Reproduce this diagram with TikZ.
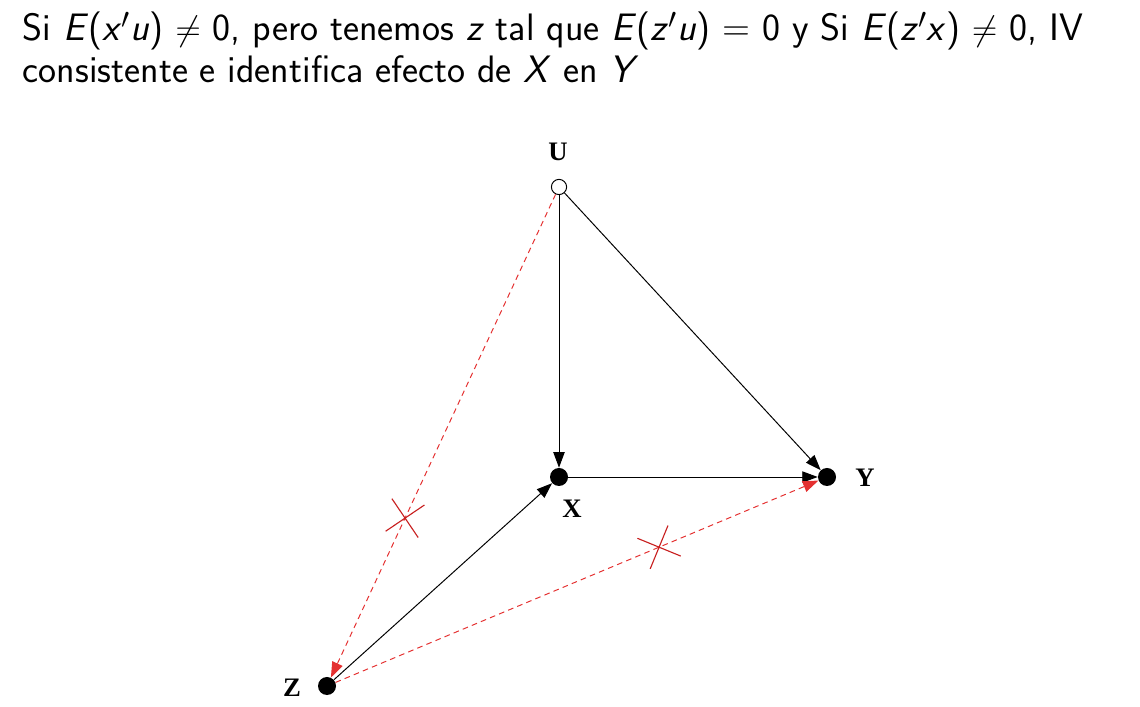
\documentclass[tikz,border=0pt]{standalone}
\usepackage{fontspec}
\usepackage{tikz}
\usetikzlibrary{arrows.meta,shapes.misc}
\newfontfamily\varfont{Liberation Serif}
\definecolor{dagred}{RGB}{228,48,48}
\definecolor{cutred}{RGB}{200,32,32}
\newcommand\mv[1]{\textit{#1}}

\begin{document}
\begin{tikzpicture}[x=0.025cm, y=-0.025cm,
  observed/.style={circle, fill=black, inner sep=0pt, minimum size=0.45cm},
  latent/.style={circle, draw, fill=white, line width=0.7pt, inner sep=0pt, minimum size=0.38cm},
  varlabel/.style={font=\varfont\bfseries\fontsize{19}{22}\selectfont},
  title/.style={anchor=base west, font=\sffamily\fontsize{27.2}{33}\selectfont},
  arrow/.style={-{Triangle[length=11pt, width=8pt]}, line width=0.7pt},
  blocked/.style={-{Triangle[length=11pt, width=8pt]}, dagred, dashed, dash pattern=on 4pt off 3pt, line width=0.7pt},
  cut/.style={cross out, draw=cutred, solid, sloped, line width=0.8pt, minimum size=0.8cm, inner sep=0pt}]
\useasboundingbox (0,0) rectangle (1140,707);
% texto
\node[title] (line1) at (18,41)
  {Si \mv{E}(\mv{x}$'$\mv{u}) $\neq$ 0, pero tenemos \mv{z} tal que \mv{E}(\mv{z}$'$\mv{u}) = 0 y Si \mv{E}(\mv{z}$'$\mv{x}) $\neq$ 0, IV};
\node[title] (line2) at (18,83)
  {consistente e identifica efecto de \mv{X} en \mv{Y}};
% grafo
\node[latent] (u) at (559,187) {};
\node[observed] (x) at (559,477) {};
\node[observed] (y) at (827,477) {};
\node[observed] (z) at (327,686) {};
\node[varlabel] (ulab) at (558,152) {U};
\node[varlabel] (xlab) at (572,509) {X};
\node[varlabel] (ylab) at (865,478) {Y};
\node[varlabel] (zlab) at (292,688) {Z};
\draw[arrow] (u) -- (x);
\draw[arrow] (u) -- (y);
\draw[arrow] (x) -- (y);
\draw[arrow] (z) -- (x);
\draw[blocked] (u) -- node[cut, pos=0.67, rotate=14] {} (z);
\draw[blocked] (z) -- node[cut, pos=0.67] {} (y);
\end{tikzpicture}
\end{document}
